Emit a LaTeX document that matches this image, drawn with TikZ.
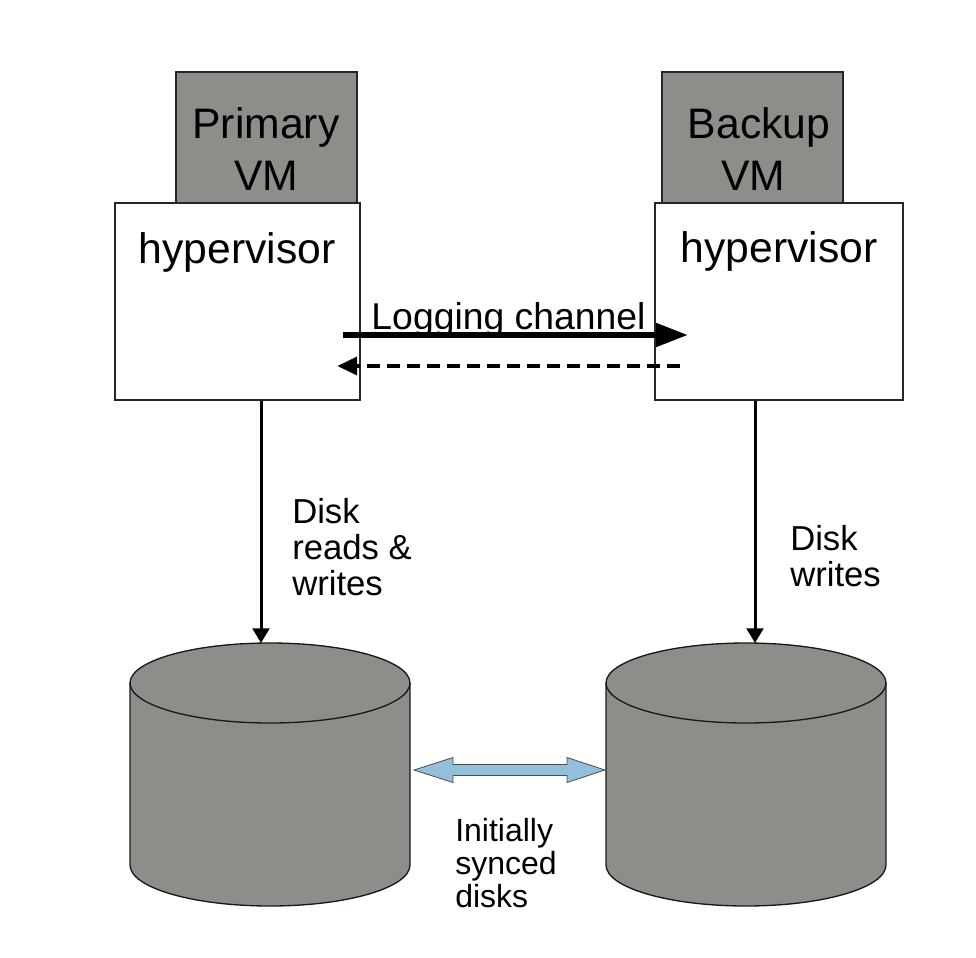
\documentclass[tikz,border=0pt]{standalone}
\usepackage{fontspec}
\setmainfont{Liberation Sans}
\usetikzlibrary{arrows.meta}
\definecolor{boxgray}{RGB}{141,141,137}
\definecolor{syncblue}{RGB}{147,191,219}
\begin{document}
\begin{tikzpicture}[x=0.75pt,y=-0.75pt,
  vmbox/.style={draw=black!85, line width=0.9pt, fill=boxgray, minimum width=135.75pt, minimum height=98.25pt, inner sep=0pt},
  hypbox/.style={draw=black!85, line width=0.9pt, fill=white, minimum height=147.75pt, inner sep=0pt},
  bigtext/.style={font=\fontsize{32pt}{39pt}\selectfont, align=center, inner sep=0pt},
  midtext/.style={font=\fontsize{26pt}{27pt}\selectfont, align=left, inner sep=0pt, anchor=base west},
  smalltext/.style={font=\fontsize{24pt}{24.75pt}\selectfont, align=left, inner sep=0pt, anchor=base west},
  disk/.style={draw=black!90, line width=1pt, fill=boxgray},
  logarrow/.style={line width=4.5pt, -{Triangle[length=24pt,width=17pt]}},
  backarrow/.style={line width=3.6pt, dash pattern=on 9.75pt off 5.25pt, -{Triangle[length=15pt,width=13pt]}},
  diskarrow/.style={line width=2.25pt, -{Triangle[length=11pt,width=12.5pt]}}
]
\useasboundingbox (0,0) rectangle (976,958);

% VM boxes
\node[vmbox] (pvm) at (266.5,137.5) {};
\node[vmbox] (bvm) at (752.5,137.5) {};
% hypervisor boxes
\node[hypbox, minimum width=183.75pt] (hypL) at (237.5,301.5) {};
\node[hypbox, minimum width=186pt] (hypR) at (779,301.5) {};

\node[bigtext, anchor=base] (pvmtext) at (266,190) {Primary\\VM};
\node[bigtext, anchor=base] (bvmtext) at (753,190) {\hspace*{9pt}Backup\\VM};
\node[bigtext, anchor=base] (hypLtext) at (237,263) {hypervisor};
\node[bigtext, anchor=base] (hypRtext) at (779,262) {hypervisor};

% logging channel
\coordinate (logS) at (343,335);
\coordinate (logE) at (688,335);
\coordinate (backS) at (680,366);
\coordinate (backE) at (337,366);
\draw[logarrow] (logS) -- (logE);
\draw[backarrow] (backS) -- (backE);
\node[font=\fontsize{28pt}{30pt}\selectfont, inner sep=0pt, anchor=base] (logtext) at (508.5,329) {Logging channel};

% disks
\draw[disk] (130,683) -- (130,865) arc (180:0:140 and 41) -- (410,683) arc (0:-180:140 and 40) -- cycle;
\draw[disk, fill=none] (130,683) arc (180:0:140 and 40);
\draw[disk] (606,683) -- (606,865) arc (180:0:140 and 41) -- (886,683) arc (0:-180:140 and 40) -- cycle;
\draw[disk, fill=none] (606,683) arc (180:0:140 and 40);
\coordinate (diskLtop) at (261,643);
\coordinate (diskRtop) at (755,643);

% disk arrows
\draw[diskarrow] (hypL.south -| diskLtop) -- (diskLtop);
\draw[diskarrow] (hypR.south -| diskRtop) -- (diskRtop);
\node[midtext] (lbl1) at (292,595) {Disk\\reads \&\\writes};
\node[midtext] (lbl2) at (790,586) {Disk\\writes};

% sync arrow
\coordinate (syncL) at (414,770);
\coordinate (syncR) at (605,770);
\draw[draw=black!70, line width=0.6pt, fill=syncblue]
  (syncL) -- ++(39,-12.5) -- ++(0,7) -- (567,764.5) -- ++(0,-7) -- (syncR)
  -- (567,782.5) -- ++(0,-7) -- (453,775.5) -- ++(0,7) -- cycle;
\node[smalltext] (lbl3) at (455,907) {Initially\\synced\\disks};
\end{tikzpicture}
\end{document}
